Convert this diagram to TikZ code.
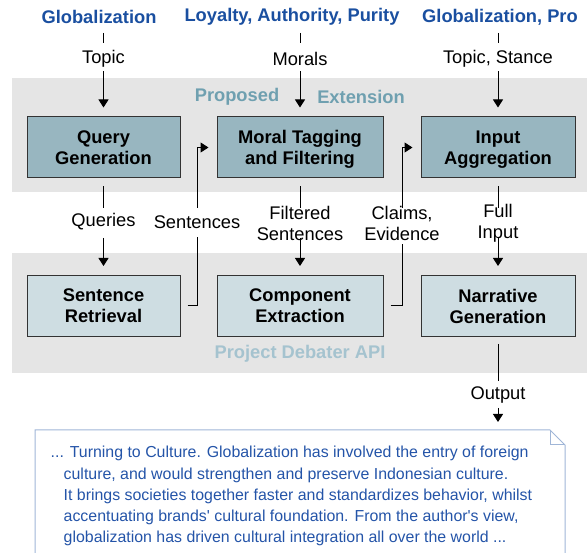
\documentclass[tikz,border=0pt]{standalone}
\usepackage{fontspec}
\setmainfont{Liberation Sans}[Ligatures=TeXOff]
\usetikzlibrary{arrows.meta}
\definecolor{hdblue}{RGB}{26,79,160}
\definecolor{txblue}{RGB}{36,84,168}
\definecolor{bandgray}{RGB}{229,229,229}
\definecolor{extfill}{RGB}{152,182,192}
\definecolor{apifill}{RGB}{206,221,226}
\definecolor{exttext}{RGB}{111,160,176}
\definecolor{apitext}{RGB}{165,195,207}
\definecolor{noteline}{RGB}{160,182,215}
\begin{document}
\begin{tikzpicture}[x=1pt,y=-1pt,
    every node/.style={font=\fontsize{18.3}{21}\selectfont},
    head/.style={text=hdblue,font=\fontsize{18.3}{21}\selectfont\bfseries},
    lbl/.style={align=center,inner sep=0pt},
    stage/.style={draw=black!80,line width=1pt,minimum height=61pt,align=center,
        font=\fontsize{18.3}{21}\selectfont\bfseries},
    ext/.style={stage,fill=extfill},
    api/.style={stage,fill=apifill},
    arr/.style={line width=1pt,-{Triangle[width=10pt,length=8pt]}},
    ln/.style={line width=1pt}]
    \useasboundingbox (0,0) rectangle (587,553);
    \clip (0,0) rectangle (587,553);
    \fill [bandgray] (12,78) rectangle (600,192);
    \fill [bandgray] (12,253) rectangle (600,373);
    \node [head] (g1) at (99,17) {Globalization};
    \node [head] (g2) at (292,17) {Loyalty, Authority, Purity};
    \node [head] (g3) at (500,17) {Globalization, Pro};
    \node [lbl] (t1) at (103.5,58.5) {Topic};
    \node [lbl] (t2) at (300,58.5) {Morals};
    \node [lbl] (t3) at (498,58.5) {Topic, Stance};
    \node [text=exttext,font=\fontsize{18.3}{21}\selectfont\bfseries] (pe1) at (237,96.5) {Proposed};
    \node [text=exttext,font=\fontsize{18.3}{21}\selectfont\bfseries] (pe2) at (361,96.5) {Extension};
    \node [ext,minimum width=153pt] (qg) at (103.5,147.5) {Query\\Generation};
    \node [ext,minimum width=166pt,text depth=0pt] (mt) at (300,147.5) {Moral Tagging\\and Filtering};
    \node [ext,minimum width=154pt,text depth=0pt] (ia) at (498,147.5) {Input\\Aggregation};
    \node [lbl] (lq) at (103.5,222) {Queries};
    \node [lbl] (ls) at (197,222) {Sentences};
    \node [lbl] (lf) at (300,223) {Filtered\\Sentences};
    \node [lbl] (lc) at (402,223) {Claims,\\Evidence};
    \node [lbl] (lfi) at (498,223) {Full\\Input};
    \node [api,minimum width=153pt] (sr) at (103.5,306) {Sentence\\Retrieval};
    \node [api,minimum width=166pt] (ce) at (300,306) {Component\\Extraction};
    \node [api,minimum width=154pt] (ng) at (498,306) {Narrative\\Generation};
    \node [text=apitext,font=\fontsize{18.3}{21}\selectfont\bfseries] (pd) at (300,353.5) {Project Debater API};
    \node [lbl] (lo) at (498,395) {Output};
    \node [anchor=north west,align=left,inner xsep=15.5pt,inner ysep=16pt,text=txblue,
        font=\fontsize{15.9}{21.3}\selectfont] (note) at (35,430)
        {... Turning to Culture. Globalization has involved the entry of foreign\\
        \hspace*{13pt}culture, and would strengthen and preserve Indonesian culture.\\
        \hspace*{13pt}It brings societies together faster and standardizes behavior, whilst\\
        \hspace*{13pt}accentuating brands' cultural foundation. From the author's view,\\
        \hspace*{13pt}globalization has driven cultural integration all over the world ...};
    \draw [noteline,line width=1pt] (note.north west) -- (550,430) -- (565,445) -- (565,600) -- (35,600) -- cycle;
    \draw [noteline,line width=1pt] (550,430) -- (550,445) -- (565,445);
    \draw [ln,shorten <=16pt,shorten >=15pt] (g1.center -| t1) -- (t1.center);
    \draw [ln,shorten <=16pt,shorten >=15pt] (g2.center -| t2) -- (t2.center);
    \draw [ln,shorten <=16pt,shorten >=15pt] (g3.center -| t3) -- (t3.center);
    \draw [arr,shorten <=13pt,shorten >=9pt] (t1.center) -- (qg.north);
    \draw [arr,shorten <=13pt,shorten >=9pt] (t2.center) -- (mt.north);
    \draw [arr,shorten <=13pt,shorten >=9pt] (t3.center) -- (ia.north);
    \draw [ln,shorten <=8pt,shorten >=14pt] (qg.south) -- (lq.center);
    \draw [arr,shorten <=16pt,shorten >=9pt] (lq.center) -- (sr.north);
    \draw [ln,shorten <=8pt,shorten >=15pt] (mt.south) -- (lf.center);
    \draw [arr,shorten <=15pt,shorten >=9pt] (lf.center) -- (ce.north);
    \draw [ln,shorten <=8pt,shorten >=15pt] (ia.south) -- (lfi.center);
    \draw [arr,shorten <=15pt,shorten >=9pt] (lfi.center) -- (ng.north);
    \draw [ln,shorten <=7pt,shorten >=15pt] (sr.east) -| (ls.center);
    \draw [arr,shorten <=14pt,shorten >=8pt] (ls.center) |- (mt.west);
    \draw [ln,shorten <=7pt,shorten >=21pt] (ce.east) -| (lc.center);
    \draw [arr,shorten <=15pt,shorten >=8pt] (lc.center) |- (ia.west);
    \draw [ln,shorten <=7pt,shorten >=14pt] (ng.south) -- (lo.center);
    \draw [arr,shorten <=13pt,shorten >=8pt] (lo.center) -- (lo.center |- note.north);
\end{tikzpicture}
\end{document}
